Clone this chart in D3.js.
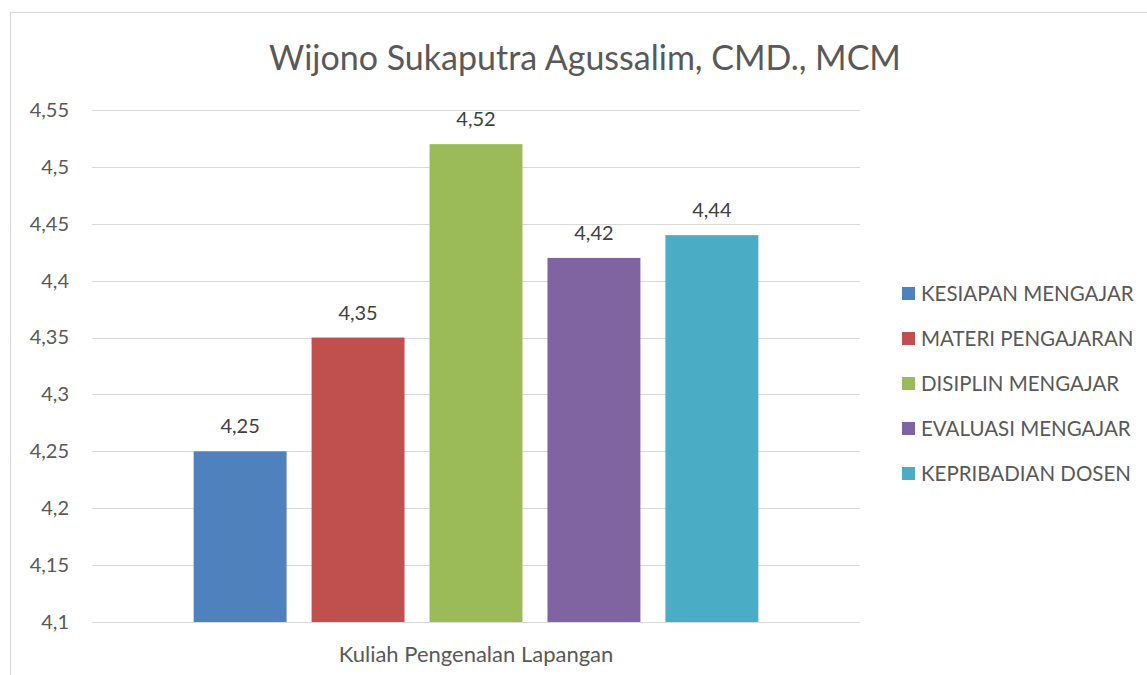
<!DOCTYPE html>
<html>
<head>
<meta charset="utf-8">
<script src="https://cdn.jsdelivr.net/npm/d3@7"></script>
<style>
  body { margin: 0; background: #fff; }
  text { font-family: Lato, "Open Sans", sans-serif; }
</style>
</head>
<body>
<svg width="1147" height="675"></svg>
<script>
// data
var category = ["Kuliah Pengenalan Lapangan"];
var series = ["KESIAPAN MENGAJAR", "MATERI PENGAJARAN", "DISIPLIN MENGAJAR", "EVALUASI MENGAJAR", "KEPRIBADIAN DOSEN"];
var values = [4.25, 4.35, 4.52, 4.42, 4.44];
var colors = ["#4F81BD", "#C0504D", "#9BBB59", "#8064A2", "#4BACC6"];
var yTicks = [4.1, 4.15, 4.2, 4.25, 4.3, 4.35, 4.4, 4.45, 4.5, 4.55];

var svg = d3.select("svg");
var fmt = function(v) { return String(+v.toFixed(2)).replace(".", ","); };

// chart border
svg.append("rect")
  .attr("x", 10.5).attr("y", 12.5).attr("width", 1160).attr("height", 700)
  .attr("fill", "#fff").attr("stroke", "#d9d9d9").attr("stroke-width", 1.2);

// title
svg.append("text")
  .attr("x", 585).attr("y", 70)
  .attr("text-anchor", "middle")
  .attr("fill", "#595959")
  .style("font-size", "34px")
  .text("Wijono Sukaputra Agussalim, CMD., MCM");

var pLeft = 92, pRight = 860, pTop = 110, pBottom = 622;

var y = d3.scaleLinear().domain([4.1, 4.55]).range([pBottom, pTop]);
var x0 = d3.scaleBand().domain(category).range([pLeft, pRight]).paddingOuter(0.18).paddingInner(0);
var x1 = d3.scaleBand().domain(series).range([0, x0.bandwidth()]).paddingInner(0.212).paddingOuter(0);

// gridlines
svg.append("g").selectAll("line").data(yTicks).enter().append("line")
  .attr("x1", pLeft).attr("x2", pRight)
  .attr("y1", function(d) { return Math.round(y(d)) + 0.5; })
  .attr("y2", function(d) { return Math.round(y(d)) + 0.5; })
  .attr("stroke", "#d9d9d9").attr("stroke-width", 1);

// y axis labels
var yAxis = d3.axisLeft(y).tickValues(yTicks).tickFormat(fmt).tickSize(0).tickPadding(0);
var ya = svg.append("g").attr("transform", "translate(69,0)").call(yAxis);
ya.select(".domain").remove();
ya.selectAll("text")
  .attr("fill", "#595959")
  .style("font-size", "20px")
  .style("font-family", "Lato, sans-serif");

// bars
var g = svg.append("g").attr("transform", "translate(" + x0(category[0]) + ",0)");
g.selectAll("rect").data(values).enter().append("rect")
  .attr("x", function(d, i) { return x1(series[i]); })
  .attr("y", function(d) { return y(d); })
  .attr("width", x1.bandwidth())
  .attr("height", function(d) { return y(4.1) - y(d); })
  .attr("fill", function(d, i) { return colors[i]; });

// value labels
g.selectAll("text.val").data(values).enter().append("text")
  .attr("class", "val")
  .attr("x", function(d, i) { return x1(series[i]) + x1.bandwidth() / 2; })
  .attr("y", function(d) { return y(d) - 18; })
  .attr("text-anchor", "middle")
  .attr("fill", "#404040")
  .style("font-size", "20px")
  .text(fmt);

// x axis label
var xAxis = d3.axisBottom(x0).tickSize(0).tickPadding(0);
var xa = svg.append("g").attr("transform", "translate(0," + (pBottom + 24) + ")").call(xAxis);
xa.select(".domain").remove();
xa.selectAll("text")
  .attr("fill", "#595959")
  .style("font-size", "22px")
  .style("font-family", "Lato, sans-serif");

// legend
var lg = svg.append("g").selectAll("g").data(series).enter().append("g")
  .attr("transform", function(d, i) { return "translate(902," + (293 + i * 45) + ")"; });
lg.append("rect")
  .attr("x", 0).attr("y", -6).attr("width", 13).attr("height", 13)
  .attr("fill", function(d, i) { return colors[i]; });
lg.append("text")
  .attr("x", 19).attr("y", 8)
  .attr("fill", "#595959")
  .style("font-size", "20.5px")
  .text(function(d) { return d; });
</script>
</body>
</html>
